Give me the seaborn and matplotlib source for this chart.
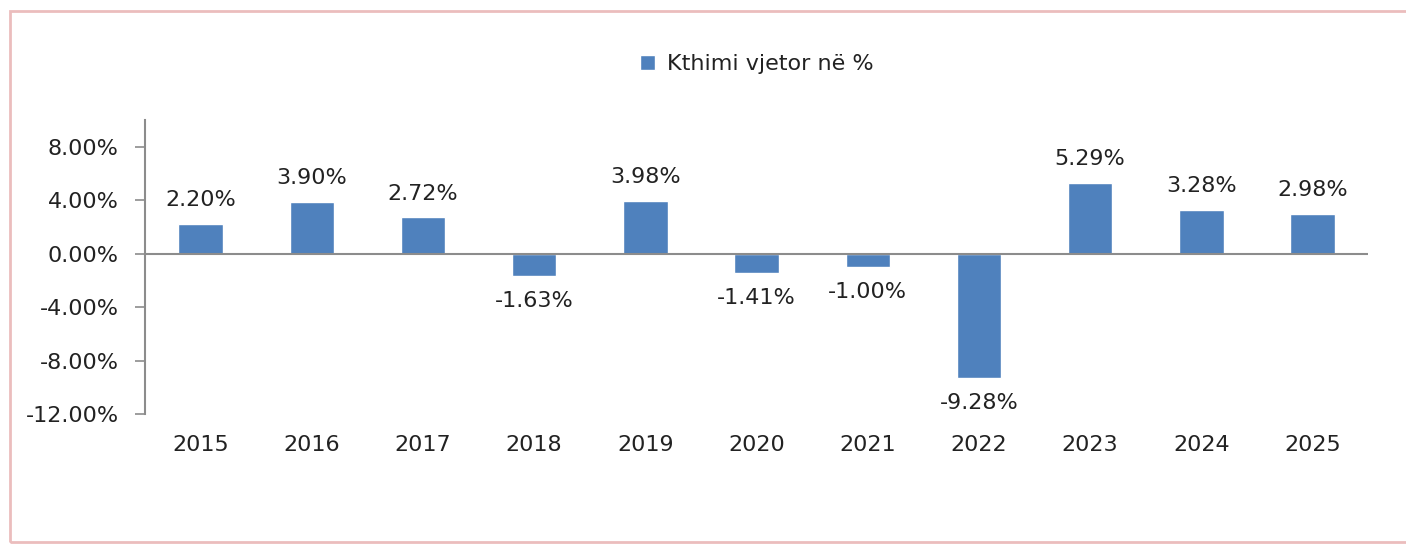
import matplotlib
matplotlib.use("Agg")
import matplotlib.pyplot as plt
import seaborn as sns
import pandas as pd
from matplotlib.patches import Rectangle

years = ["2015", "2016", "2017", "2018", "2019", "2020", "2021", "2022", "2023", "2024", "2025"]
values = [2.20, 3.90, 2.72, -1.63, 3.98, -1.41, -1.00, -9.28, 5.29, 3.28, 2.98]
yticks = [-12, -8, -4, 0, 4, 8]
series_name = "Kthimi vjetor në %"

sns.set_theme(style="white")
plt.rcParams['font.family'] = ['DejaVu Sans']

df = pd.DataFrame({"year": years, "value": values})

fig = plt.figure(figsize=(14.06, 5.44), dpi=100)
ax = fig.add_axes([0.1031, 0.239, 0.870, 0.540])

bar_color = "#4F81BD"
sns.barplot(data=df, x="year", y="value", color=bar_color, width=0.4, ax=ax,
            saturation=1, label=series_name)

FS = 16
txt = "#222222"
ax.set_ylim(-12, 10)
ax.set_xlim(-0.5, len(years) - 0.5)
ax.set_yticks(yticks)
ax.set_yticklabels([f"{v:.2f}%" for v in yticks], fontsize=FS, color=txt)
ax.set_xlabel("")
ax.set_ylabel("")
ax.tick_params(axis="x", length=0, pad=15, labelsize=FS, labelcolor=txt)
ax.tick_params(axis="y", length=7, width=1.2, color="#8c8c8c", pad=12, left=True)

for s in ["top", "right", "bottom"]:
    ax.spines[s].set_visible(False)
ax.spines["left"].set_color("#8c8c8c")
ax.spines["left"].set_linewidth(1.5)
ax.axhline(0, color="#8c8c8c", linewidth=1.5, zorder=3)

for i, v in enumerate(values):
    if v >= 0:
        ax.annotate(f"{v:.2f}%", (i, v), xytext=(0, 10), textcoords="offset points",
                    ha="center", va="bottom", fontsize=FS, color=txt)
    else:
        ax.annotate(f"{v:.2f}%", (i, v), xytext=(0, -11), textcoords="offset points",
                    ha="center", va="top", fontsize=FS, color=txt)

leg = ax.legend(loc="center", bbox_to_anchor=(0.5, 1.19), frameon=False,
                fontsize=FS, handlelength=0.7, handleheight=0.7, handletextpad=0.5)
for t in leg.get_texts():
    t.set_color(txt)

fig.patches.append(Rectangle((10 / 1406, 2 / 544), 1.0, (544 - 13) / 544,
                             transform=fig.transFigure, fill=False,
                             edgecolor="#EBBDBD", linewidth=2))

fig.savefig("out.png", dpi=100, facecolor="white")
